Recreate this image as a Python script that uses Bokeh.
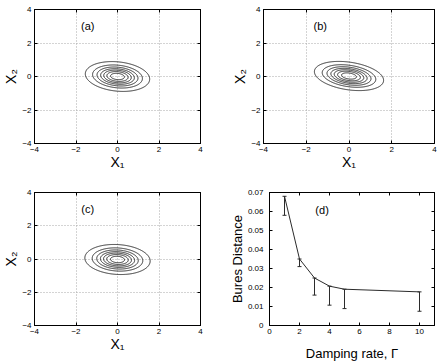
import numpy as np
from bokeh.plotting import figure
from bokeh.layouts import column, row
from bokeh.models import (Range1d, FixedTicker, LinearAxis, Label, ColumnDataSource,
                          Whisker, TeeHead, CustomJSTickFormatter)
from bokeh.embed import file_html
from bokeh.resources import INLINE

# ---------------- data ----------------
panel_names = ["(a)", "(b)", "(c)"]
quad_ticks = [-4, -2, 0, 2, 4]
# parameters of the phase-space distribution contoured in each panel
panel_sigma_x = [0.69, 0.72, 0.70]
panel_sigma_y = [0.39, 0.37, 0.40]
panel_shear = [-0.10, -0.16, -0.06]
panel_y_shift = [0.0, 0.03, -0.03]
contour_levels = [0.08, 0.22, 0.36, 0.50, 0.63, 0.76, 0.89]

damping_rate = [1, 2, 3, 4, 5, 10]
bures_distance = [0.068, 0.035, 0.025, 0.0207, 0.0191, 0.0177]
bures_lower = [0.058, 0.031, 0.016, 0.0107, 0.0089, 0.0075]
damping_ticks = [0, 2, 4, 6, 8, 10]
bures_ticks = [0, 0.01, 0.02, 0.03, 0.04, 0.05, 0.06, 0.07]

x1_label = "X\u2081"
x2_label = "X\u2082"
bures_label = "Bures Distance"
damping_label = "Damping rate, \u0393"

# ---------------- layout ----------------
FONT = "Liberation Sans"
INK = "#2b2b2b"

# figure page origin, size and frame box (page coordinates)
FIGS = {
    "a": dict(origin=(0, 0), size=(226, 180), frame=(30, 9, 200, 143)),
    "b": dict(origin=(226, 0), size=(214, 180), frame=(263, 9, 434, 143)),
    "c": dict(origin=(0, 180), size=(226, 183), frame=(30, 192, 200, 326)),
    "d": dict(origin=(226, 180), size=(214, 183), frame=(263, 192, 434, 326)),
}


def make_fig(key, xr, yr):
    spec = FIGS[key]
    ox, oy = spec["origin"]
    w, h = spec["size"]
    x0, y0, x1, y1 = spec["frame"]
    p = figure(width=w, height=h, x_range=Range1d(*xr), y_range=Range1d(*yr),
               output_backend="svg", toolbar_location=None,
               min_border_left=x0 - ox, min_border_right=ox + w - x1,
               min_border_top=y0 - oy, min_border_bottom=oy + h - y1)
    p.outline_line_color = "black"
    p.outline_line_alpha = 1
    p.outline_line_width = 1
    p.background_fill_color = "white"
    p.border_fill_color = "white"
    return p


def to_data(key, xr, yr, px, py):
    x0, y0, x1, y1 = FIGS[key]["frame"]
    dx = xr[0] + (px - x0) / (x1 - x0) * (xr[1] - xr[0])
    dy = yr[1] - (py - y0) / (y1 - y0) * (yr[1] - yr[0])
    return dx, dy


def add_text(p, key, xr, yr, px, py, text, size):
    dx, dy = to_data(key, xr, yr, px, py)
    p.add_layout(Label(x=dx, y=dy, text=text, text_font=FONT, text_font_size=size,
                       text_color="black", text_align="center", text_baseline="middle"))


def style_axis(ax, ticks, standoff, label, label_size, label_standoff, formatter=None):
    ax.ticker = FixedTicker(ticks=ticks)
    if formatter is not None:
        ax.formatter = formatter
    ax.major_label_text_font = FONT
    ax.major_label_text_font_size = "8px"
    ax.major_label_text_color = "black"
    ax.major_label_standoff = standoff
    ax.major_tick_in = 3
    ax.major_tick_out = 0
    ax.minor_tick_in = 0
    ax.minor_tick_out = 0
    ax.major_tick_line_color = "black"
    ax.axis_line_color = "black"
    ax.axis_label = label
    ax.axis_label_text_font = FONT
    ax.axis_label_text_font_size = label_size
    ax.axis_label_text_font_style = "normal"
    ax.axis_label_text_color = "black"
    ax.axis_label_standoff = label_standoff


def add_mirror(p, side, ticks):
    ax = LinearAxis(ticker=FixedTicker(ticks=ticks))
    ax.formatter = CustomJSTickFormatter(code="return '';")
    ax.major_label_text_font_size = "0px"
    ax.major_label_standoff = 0
    ax.major_tick_in = 3
    ax.major_tick_out = 0
    ax.minor_tick_in = 0
    ax.minor_tick_out = 0
    ax.major_tick_line_color = "black"
    ax.axis_line_color = "black"
    p.add_layout(ax, side)


minus_fmt = "return tick < 0 ? '\u2212' + Math.abs(tick) : String(tick);"

title_pos = {"a": (84.5, 25), "b": (319.7, 25), "c": (84.5, 208.5)}

qr = (-4, 4)
gx = np.linspace(qr[0], qr[1], 321)
gy = np.linspace(qr[0], qr[1], 321)
GX, GY = np.meshgrid(gx, gy)

contour_figs = []
for i, key in enumerate(["a", "b", "c"]):
    p = make_fig(key, qr, qr)
    style_axis(p.xaxis[0], quad_ticks, 3, x1_label, "14px", -1,
               CustomJSTickFormatter(code=minus_fmt))
    style_axis(p.yaxis[0], quad_ticks, 3, x2_label, "14px", 0,
               CustomJSTickFormatter(code=minus_fmt))
    add_mirror(p, "above", quad_ticks)
    add_mirror(p, "right", quad_ticks)
    for g in (p.xgrid[0], p.ygrid[0]):
        g.grid_line_color = "#a8a8a8"
        g.grid_line_dash = "1 2"
        g.grid_line_width = 1

    u = GX / panel_sigma_x[i]
    v = (GY - panel_y_shift[i] - panel_shear[i] * GX) / panel_sigma_y[i]
    z = np.exp(-0.5 * (u ** 2 + v ** 2))
    p.contour(gx, gy, z, contour_levels, line_color=INK, line_width=1)

    add_text(p, key, qr, qr, *title_pos[key], panel_names[i], "11px")
    contour_figs.append(p)

# ---------------- panel (d) ----------------
dxr = (0, 11)
dyr = (0, 0.07)
pd_ = make_fig("d", dxr, dyr)
style_axis(pd_.xaxis[0], damping_ticks, 3, damping_label, "13px", 9)
style_axis(pd_.yaxis[0], bures_ticks, 6, bures_label, "13px", 0,
           CustomJSTickFormatter(code="return tick == 0 ? '0' : tick.toFixed(2);"))
add_mirror(pd_, "above", damping_ticks)
add_mirror(pd_, "right", bures_ticks)
pd_.xgrid.grid_line_color = None
pd_.ygrid.grid_line_color = None

src = ColumnDataSource(dict(x=damping_rate, y=bures_distance,
                            upper=bures_distance, lower=bures_lower))
pd_.line("x", "y", source=src, line_color=INK, line_width=1)
pd_.add_layout(Whisker(source=src, base="x", upper="upper", lower="lower",
                       line_color=INK, line_width=1,
                       upper_head=TeeHead(size=4, line_color=INK, line_width=1),
                       lower_head=TeeHead(size=4, line_color=INK, line_width=1)))

add_text(pd_, "d", dxr, dyr, 317.5, 210, "(d)", "11px")

layout = column(row(contour_figs[0], contour_figs[1]), row(contour_figs[2], pd_))

with open("out.html", "w", encoding="utf-8") as f:
    f.write(file_html(layout, INLINE))
